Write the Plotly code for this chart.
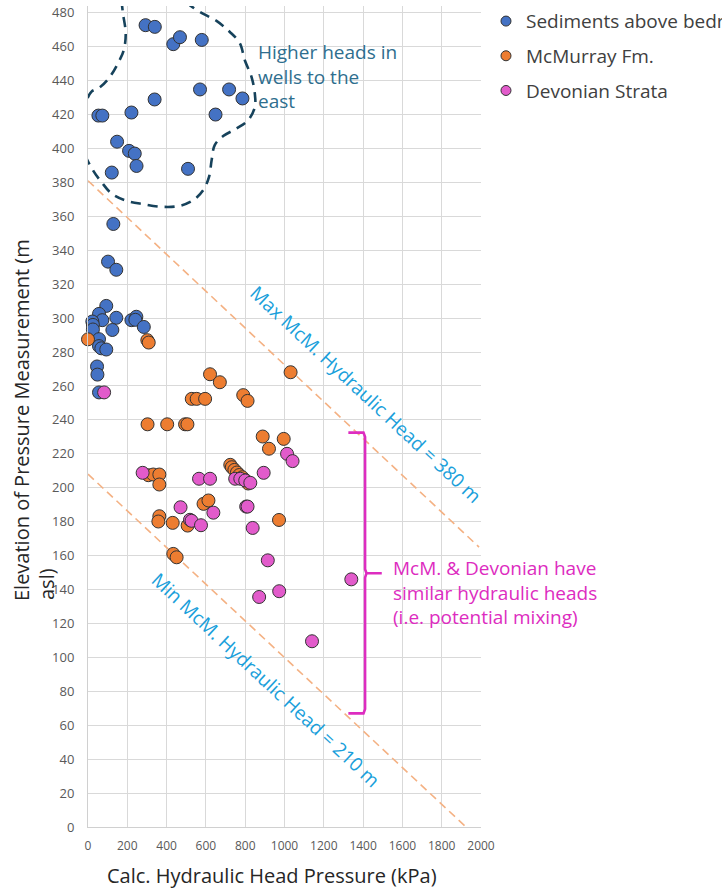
import plotly.graph_objects as go

# ---------------- data ----------------
sed_x = [293, 340, 434, 468, 579, 339, 570, 718, 786, 649, 221, 53, 73, 148, 209, 238, 247, 509, 121,
         129, 102, 144,
         93, 56, 144, 73, 22, 25, 25, 124, 221, 246, 241, 284, 56, 56, 68, 93, 46, 48, 56]
sed_y = [472.7, 471.7, 461.5, 465.6, 464, 428.9, 434.8, 434.8, 429.5, 420, 421.2, 419.4, 419.4, 404, 398.6, 397, 389.7, 388, 385.8,
         355.5, 333.3, 328.5,
         307.2, 302.5, 300.2, 298.8, 298, 296, 293.3, 293, 298.8, 300.8, 299, 294.8, 287.6, 283.5, 282.2, 281.5, 271.5, 266.7, 256.2]

mcm_x = [0, 302, 309, 621, 671, 528, 553, 596, 790, 812, 1031, 303, 403, 494, 506, 889, 996, 921,
         724, 732, 745, 758, 770, 785, 800, 815, 307, 332, 363, 363, 588, 613, 363, 358, 431, 507, 972, 434, 451]
mcm_y = [287.5, 287, 285.6, 266.9, 262.2, 252.4, 252.4, 252.4, 254.6, 251.2, 268.1, 237.4, 237.4, 237.4, 237.4, 230.2, 228.8, 223,
         213.5, 212.1, 210.5, 209, 207.5, 206.2, 204.5, 202.5, 207.4, 207.8, 207.8, 201.9, 190.5, 192.5, 183.2, 180.1, 179.3, 177.7, 181, 161, 159]

dev_x = [82, 278, 565, 621, 749, 775, 800, 826, 894, 1013, 1041, 471, 519, 527, 575, 638, 805, 812, 838, 915, 1340, 871, 973, 1140]
dev_y = [256.2, 208.8, 205.3, 205.3, 205.3, 205.3, 204.3, 202.9, 208.8, 220, 215.7, 188.5, 181.1, 180.5, 177.9, 185.3, 188.9, 188.9, 176.3, 157.2, 146, 135.6, 139, 109.5]

series_names = ["Sediments above bedrock", "McMurray Fm.", "Devonian Strata"]
series_colors = ["#4472C4", "#ED7D31", "#E25BCB"]

# guide lines (constant hydraulic head), end points
max_line_x = [0, 1990]
max_line_y = [381, 165]
min_line_x = [0, 1924]
min_line_y = [208, 0]

# outline of the "higher heads" cloud (kPa, m)
cloud_x = [170, 178, 192, 182, 156, 111, 60, 17, -12, -25, -25, -17, 25, 68, 119, 187, 280, 382, 467, 535,
           586, 616, 629, 645, 688, 756, 815, 849, 849, 832, 798, 773, 722, 654, 569, 518, 484]
cloud_y = [487.4, 479.6, 467.8, 458, 451, 442.2, 436, 433.4, 426.5, 416.7, 405, 397, 387.2, 380.3, 373.5, 369.5, 367.2, 365.6, 366.2, 369.5,
           375.4, 383.3, 393, 402, 407.3, 411.8, 416.7, 424.5, 432.4, 442.2, 452, 462, 468.7, 475.2, 480.5, 484.5, 487.4]

# curly bracket marking the McM./Devonian overlap
brace_x = [1325, 1402, 1410, 1410, 1417, 1495, 1417, 1410, 1410, 1402, 1325]
brace_y = [232.5, 232.5, 230, 152, 149.6, 149.6, 149.6, 147, 69.5, 67, 67]

x_ticks = list(range(0, 2001, 200))
y_ticks = list(range(0, 481, 20))

FONT = "Open Sans"

fig = go.Figure()

# guide lines
for lx, ly in ((max_line_x, max_line_y), (min_line_x, min_line_y)):
    fig.add_trace(go.Scatter(x=lx, y=ly, mode="lines", showlegend=False, hoverinfo="skip",
                             line=dict(color="#F4B183", width=1.6, dash="8px,5px")))

# cloud outline
fig.add_trace(go.Scatter(x=cloud_x, y=cloud_y, mode="lines", showlegend=False, hoverinfo="skip",
                         line=dict(color="#16425B", width=2.6, dash="10px,7px", shape="spline", smoothing=1.0)))

# brace
fig.add_trace(go.Scatter(x=brace_x, y=brace_y, mode="lines", showlegend=False, hoverinfo="skip",
                         line=dict(color="#DD2CC0", width=2.6)))

# data series
for xs, ys, name, col in ((sed_x, sed_y, series_names[0], series_colors[0]),
                          (mcm_x, mcm_y, series_names[1], series_colors[1]),
                          (dev_x, dev_y, series_names[2], series_colors[2])):
    fig.add_trace(go.Scatter(x=xs, y=ys, mode="markers", name=name, showlegend=False, cliponaxis=False,
                             marker=dict(size=13, color=col, line=dict(color="#333333", width=1))))

# legend entries
for i, (name, col) in enumerate(zip(series_names, series_colors)):
    fig.add_trace(go.Scatter(x=[None], y=[None], mode="markers", name=name, legendgroup=f"g{i}",
                             marker=dict(size=10, color=col, line=dict(color="#333333", width=1))))

annotations = [
    dict(text="Higher heads in<br>wells to the<br>east", x=854, y=465.5, xref="x", yref="y",
         xanchor="left", yanchor="top", align="left", showarrow=False,
         font=dict(family=FONT, size=19, color="#2E6E8E")),
    dict(text="Max McM. Hydraulic Head = 380 m", x=1410, y=255, xref="x", yref="y",
         xanchor="center", yanchor="middle", textangle=43, showarrow=False,
         font=dict(family=FONT, size=19, color="#1A9FDB")),
    dict(text="Min McM. Hydraulic Head = 210 m", x=905, y=86.5, xref="x", yref="y",
         xanchor="center", yanchor="middle", textangle=43, showarrow=False,
         font=dict(family=FONT, size=19, color="#1A9FDB")),
    dict(text="McM. & Devonian have<br>similar hydraulic heads<br>(i.e. potential mixing)", x=1542, y=161.5,
         xref="x", yref="y", xanchor="left", yanchor="top", align="left", showarrow=False,
         font=dict(family=FONT, size=19, color="#DD2CC0")),
    dict(text="Calc. Hydraulic Head Pressure (kPa)", x=0.468, y=-0.0585, xref="paper", yref="paper",
         xanchor="center", yanchor="middle", showarrow=False,
         font=dict(family=FONT, size=20, color="#262626")),
    dict(text="Elevation of Pressure Measurement (m", x=-0.1705, y=0.4957, xref="paper", yref="paper",
         xanchor="center", yanchor="middle", textangle=-90, showarrow=False,
         font=dict(family=FONT, size=20, color="#262626")),
    dict(text="asl)", x=-0.1043, y=0.296, xref="paper", yref="paper",
         xanchor="center", yanchor="middle", textangle=-90, showarrow=False,
         font=dict(family=FONT, size=20, color="#262626")),
]

fig.update_layout(
    width=722, height=888,
    margin=dict(l=88, r=241, t=6, b=61, autoexpand=False),
    paper_bgcolor="white", plot_bgcolor="white",
    font=dict(family=FONT, color="#595959"),
    showlegend=True,
    legend=dict(x=1.0127, y=1.0046, xanchor="left", yanchor="top", traceorder="grouped",
                tracegroupgap=7, font=dict(family=FONT, size=19, color="#404040"),
                bgcolor="rgba(0,0,0,0)"),
    annotations=annotations,
    xaxis=dict(range=[0, 2000], tickvals=x_ticks, showgrid=True, gridcolor="#D9D9D9", gridwidth=1,
               zeroline=False, showline=True, linecolor="#D0D0D0", linewidth=1, ticks="",
               tickfont=dict(family=FONT, size=12, color="#595959"), ticklabelstandoff=8),
    yaxis=dict(range=[0, 484], tickvals=y_ticks, showgrid=True, gridcolor="#D9D9D9", gridwidth=1,
               zeroline=False, showline=True, linecolor="#D0D0D0", linewidth=1, ticks="",
               tickfont=dict(family=FONT, size=13, color="#595959"), ticklabelstandoff=10),
)

fig.write_html("out.html", config={"displayModeBar": False},
               post_script="document.body.style.margin='0';")
